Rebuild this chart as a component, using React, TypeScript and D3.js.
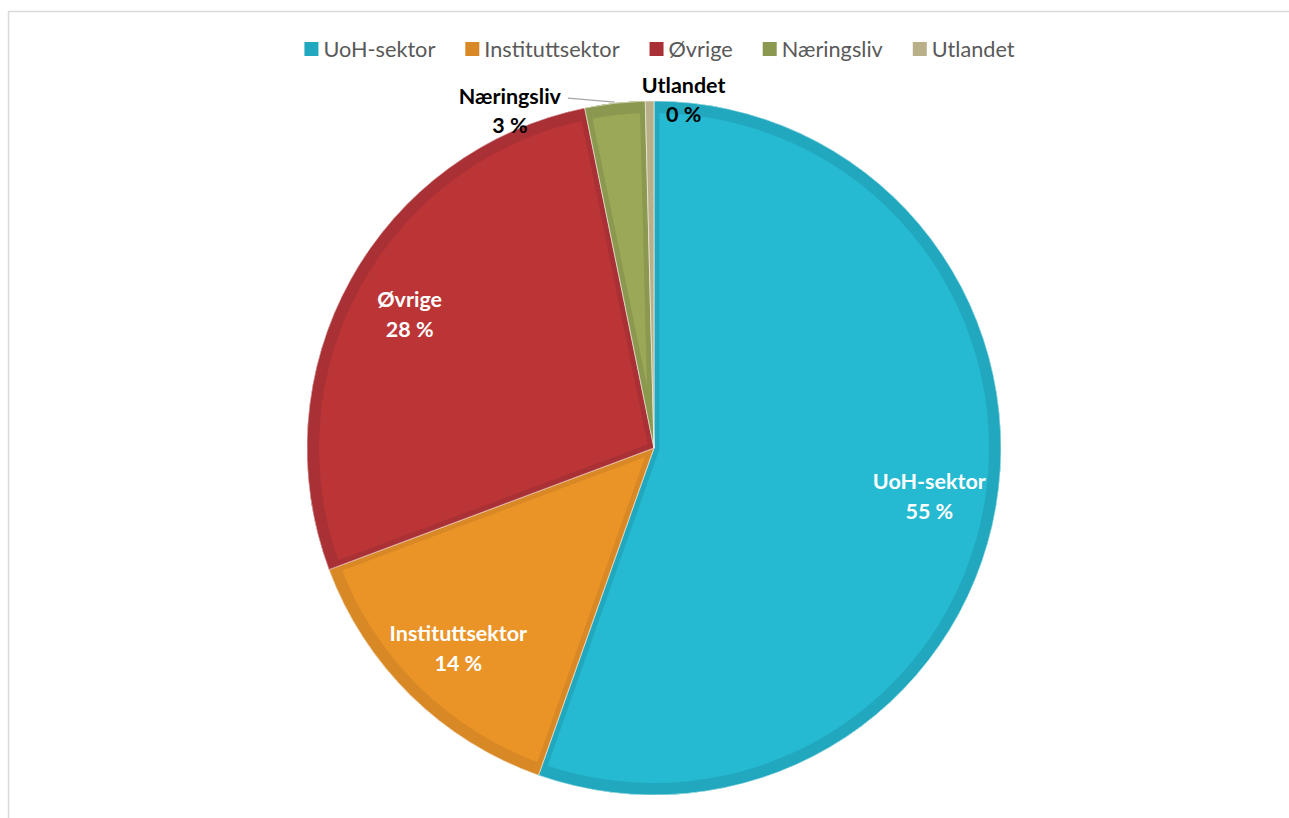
import React, { useEffect, useRef } from "react";
import * as d3 from "d3";

const categories = ["UoH-sektor", "Instituttsektor", "Øvrige", "Næringsliv", "Utlandet"];
const values = [55.4, 13.9, 27.5, 2.8, 0.4];
const fillColors = ["#25BAD1", "#EA9327", "#BB3436", "#9AA857", "#C3BA94"];
const edgeColors = ["#21A8BE", "#D98826", "#A93034", "#8B984F", "#B9B08A"];
const labelInside = [true, true, true, false, false];

const W = 1289;
const H = 818;
const CX = 654;
const CY = 448;
const R = 347;

export default function App() {
  const ref = useRef<SVGSVGElement | null>(null);

  useEffect(() => {
    const svg = d3.select(ref.current);
    svg.selectAll("*").remove();

    svg
      .append("path")
      .attr("d", `M8.5,${H + 5} L8.5,11.5 L${W + 5},11.5`)
      .attr("fill", "none")
      .attr("stroke", "#D9D9D9")
      .attr("stroke-width", 1.5);

    const data = categories.map((c, i) => ({ name: c, value: values[i], i }));
    const pie = d3
      .pie<any>()
      .value((d) => d.value)
      .sort(null)
      .startAngle(0)
      .endAngle(2 * Math.PI);
    const arcs = pie(data);

    const defs = svg.append("defs");
    const g = svg.append("g").attr("transform", `translate(${CX},${CY})`);

    const outer = d3.arc<any>().innerRadius(0).outerRadius(R);
    const ring = d3.arc<any>().innerRadius(R - 12).outerRadius(R);

    arcs.forEach((a, k) => {
      const id = `clip-slice-${k}`;
      defs
        .append("clipPath")
        .attr("id", id)
        .append("path")
        .attr("d", outer(a) as string);
      const sg = g.append("g");
      sg.append("path")
        .attr("d", outer(a) as string)
        .attr("fill", fillColors[a.data.i]);
      const cg = sg.append("g").attr("clip-path", `url(#${id})`);
      cg.append("path")
        .attr("d", outer(a) as string)
        .attr("fill", "none")
        .attr("stroke", edgeColors[a.data.i])
        .attr("stroke-width", 11)
        .attr("stroke-linejoin", "miter")
        .attr("stroke-miterlimit", 40);
      sg.append("path")
        .attr("d", ring(a) as string)
        .attr("fill", edgeColors[a.data.i]);
      sg.append("path")
        .attr("d", outer(a) as string)
        .attr("fill", "none")
        .attr("stroke", "#ffffff")
        .attr("stroke-opacity", 0.7)
        .attr("stroke-width", 0.8);
    });

    const fmt = (v: number) => `${Math.round(v)} %`;
    const fontFamily = "Lato, 'Open Sans', sans-serif";
    const labelSize = 21.5;

    // inside labels
    const labelArc = d3.arc<any>().innerRadius(R * 0.805).outerRadius(R * 0.805);
    arcs
      .filter((a) => labelInside[a.data.i])
      .forEach((a) => {
        const [x, y] = labelArc.centroid(a);
        const t = g
          .append("text")
          .attr("x", x)
          .attr("y", y)
          .attr("text-anchor", "middle")
          .attr("fill", "#FFFFFF")
          .attr("font-family", fontFamily)
          .attr("font-weight", 700)
          .attr("font-size", labelSize);
        t.append("tspan").attr("x", x).attr("dy", -6).text(a.data.name);
        t.append("tspan").attr("x", x).attr("dy", 30).text(fmt(a.data.value));
      });

    // outside labels
    const outsideOffsets: Record<number, [number, number, boolean]> = {
      3: [-105, -5, true],
      4: [34, -14, false],
    };
    const edgeArc = d3.arc<any>().innerRadius(R).outerRadius(R);
    arcs
      .filter((a) => !labelInside[a.data.i])
      .forEach((a) => {
        const [px, py] = edgeArc.centroid(a);
        const [ox, oy, leader] = outsideOffsets[a.data.i];
        const lx = px + ox;
        const ly = py + oy;
        if (leader) {
          g.append("path")
            .attr("d", `M${px},${py - 1} L${lx + 58},${ly}`)
            .attr("stroke", "#A6A6A6")
            .attr("stroke-width", 1.2)
            .attr("fill", "none");
        }
        const t = g
          .append("text")
          .attr("x", lx)
          .attr("y", ly)
          .attr("text-anchor", "middle")
          .attr("fill", "#000000")
          .attr("font-family", fontFamily)
          .attr("font-weight", 700)
          .attr("font-size", labelSize);
        t.append("tspan").attr("x", lx).attr("dy", 6).text(a.data.name);
        t.append("tspan").attr("x", lx).attr("dy", 29).text(fmt(a.data.value));
      });

    // legend
    const legend = svg.append("g");
    const items = legend.selectAll("g").data(categories).join("g");
    items
      .append("rect")
      .attr("width", 14)
      .attr("height", 14)
      .attr("y", 42)
      .attr("fill", (_d, i) => edgeColors[i]);
    const texts = items
      .append("text")
      .attr("x", 19)
      .attr("y", 57)
      .attr("fill", "#595959")
      .attr("font-family", fontFamily)
      .attr("font-size", 21.7)
      .text((d) => d);
    const widths: number[] = [];
    texts.each(function () {
      widths.push((this as SVGTextElement).getComputedTextLength());
    });
    const gap = 30;
    const itemW = widths.map((w) => 19 + w);
    const total = d3.sum(itemW) + gap * (itemW.length - 1);
    let x = 659.5 - total / 2;
    items.attr("transform", (_d, i) => {
      const tx = x;
      x += itemW[i] + gap;
      return `translate(${tx},0)`;
    });
  }, []);

  return (
    <svg
      ref={ref}
      width={W}
      height={H}
      style={{ position: "fixed", left: 0, top: 0, background: "#fff" }}
    />
  );
}
